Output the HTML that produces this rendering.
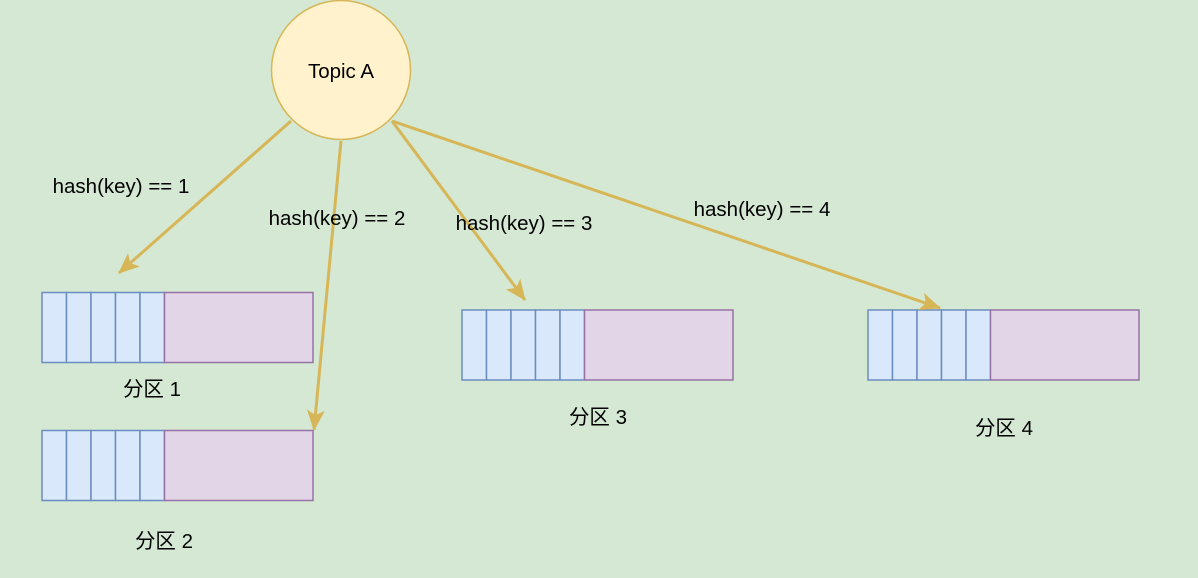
<!DOCTYPE html>
<html><head><meta charset="utf-8"><style>
html,body{margin:0;padding:0;background:#d5e8d4;}
svg{display:block;}
text{font-family:"Liberation Sans","Noto Sans CJK SC",sans-serif;font-size:20.5px;fill:#000;}
</style></head><body>
<svg width="1198" height="578" viewBox="0 0 1198 578" xmlns="http://www.w3.org/2000/svg">
<rect width="1198" height="578" fill="#d5e8d4"/>
<defs>
<marker id="a" markerWidth="22" markerHeight="20" refX="20" refY="10" orient="auto" markerUnits="userSpaceOnUse" viewBox="0 0 22 20">
<path d="M0,1 L21,10 L0,19 L5,10 Z" fill="#d6b656"/>
</marker>
<g id="p">
<rect x="0" y="0" width="24.5" height="70" fill="#dae8fc" stroke="#6c8ebf" stroke-width="1.5"/>
<rect x="24.5" y="0" width="24.5" height="70" fill="#dae8fc" stroke="#6c8ebf" stroke-width="1.5"/>
<rect x="49" y="0" width="24.5" height="70" fill="#dae8fc" stroke="#6c8ebf" stroke-width="1.5"/>
<rect x="73.5" y="0" width="24.5" height="70" fill="#dae8fc" stroke="#6c8ebf" stroke-width="1.5"/>
<rect x="98" y="0" width="24.5" height="70" fill="#dae8fc" stroke="#6c8ebf" stroke-width="1.5"/>
<rect x="122.5" y="0" width="148.5" height="70" fill="#e1d5e7" stroke="#9673a6" stroke-width="1.5"/>
</g>
</defs>
<use href="#p" x="42" y="292.5"/>
<use href="#p" x="42" y="430.5"/>
<use href="#p" x="462" y="310"/>
<use href="#p" x="868" y="310"/>
<g stroke="#d6b656" stroke-width="3" fill="none">
<line x1="291" y1="121" x2="119" y2="273" marker-end="url(#a)"/>
<line x1="341" y1="141" x2="314" y2="430" marker-end="url(#a)"/>
<line x1="392" y1="121" x2="525" y2="300" marker-end="url(#a)"/>
<line x1="392" y1="121" x2="940" y2="308" marker-end="url(#a)"/>
</g>
<circle cx="341" cy="70" r="69.5" fill="#fff2cc" stroke="#d6b656" stroke-width="1.5"/>
<text x="341" y="78" text-anchor="middle">Topic A</text>
<text x="121" y="193" text-anchor="middle">hash(key) == 1</text>
<text x="337" y="225" text-anchor="middle">hash(key) == 2</text>
<text x="524" y="230" text-anchor="middle">hash(key) == 3</text>
<text x="762" y="216" text-anchor="middle">hash(key) == 4</text>
<text x="152" y="396" text-anchor="middle">分区 1</text>
<text x="164" y="548" text-anchor="middle">分区 2</text>
<text x="598" y="424" text-anchor="middle">分区 3</text>
<text x="1004" y="435" text-anchor="middle">分区 4</text>
</svg>
</body></html>
